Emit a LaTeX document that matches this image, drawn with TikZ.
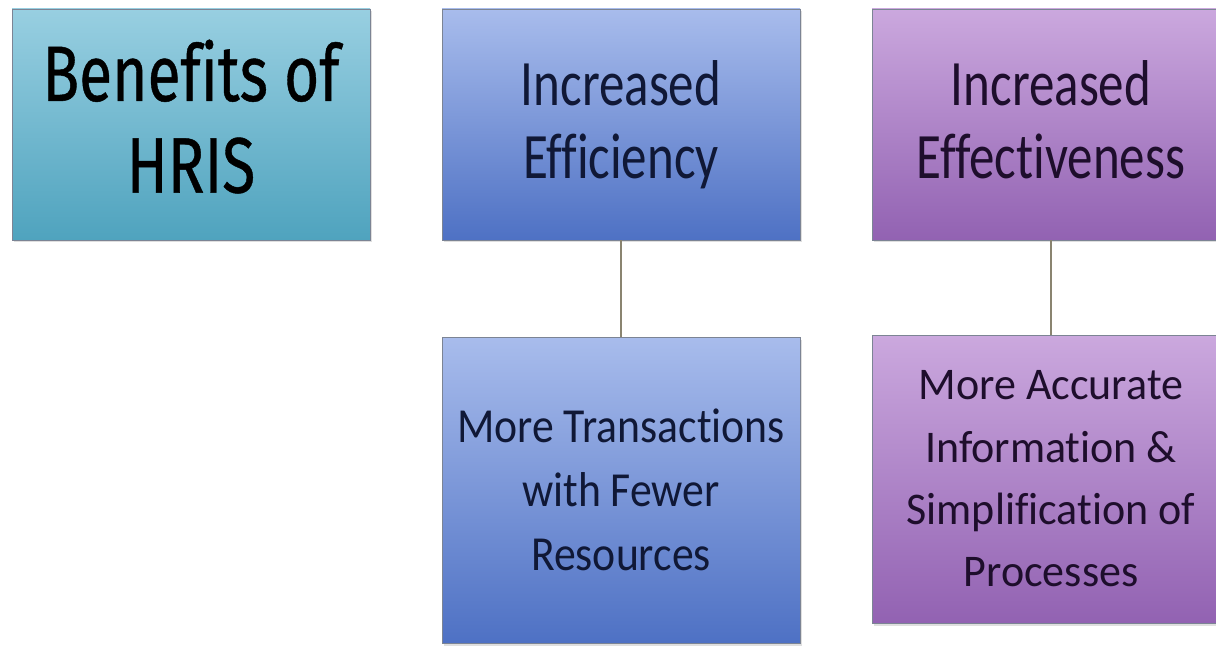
\documentclass[tikz,border=0pt]{standalone}
\usepackage{fontspec}
\setmainfont{Carlito}[Ligatures={NoCommon}]
\newfontfamily\comicfont{Fira Sans}[Ligatures={NoCommon}, FakeBold=0.6]
\usetikzlibrary{shadows}
\definecolor{tealtop}{HTML}{98CFE1}
\definecolor{tealbot}{HTML}{4FA3BE}
\definecolor{bluetop}{HTML}{A8BCEC}
\definecolor{bluebot}{HTML}{4E71C4}
\definecolor{purptop}{HTML}{CBA8DE}
\definecolor{purpbot}{HTML}{9262B2}
\definecolor{bluetext}{HTML}{101836}
\definecolor{purptext}{HTML}{1E0E2C}
\definecolor{linkcol}{HTML}{8A8470}
\definecolor{edgecol}{HTML}{7C8494}
\newcommand{\boxtext}[4]{\scalebox{1}[#1]{\parbox{350pt}{\fontsize{#2}{#3}\selectfont\centering #4\par}}}
\tikzset{
  card/.style={draw=edgecol, line width=0.6pt, inner sep=0pt, minimum width=358pt,
    drop shadow={opacity=0.25, shadow xshift=1.5pt, shadow yshift=-2.5pt}},
  tealcard/.style={card, top color=tealtop, bottom color=tealbot, text=black},
  bluecard/.style={card, top color=bluetop, bottom color=bluebot, text=bluetext},
  purpcard/.style={card, top color=purptop, bottom color=purpbot, text=purptext},
  link/.style={draw=linkcol, line width=1.3pt}
}
\begin{document}
\begin{tikzpicture}[x=1pt, y=-1pt]
\useasboundingbox (0,0) rectangle (1216,647);
\fill[white] (0,0) rectangle (1216,647);
\clip (0,0) rectangle (1216,647);
\node[tealcard, minimum height=231pt] (hris) at (191,124.5)
  {\boxtext{1.3}{60.5}{70.5}{\comicfont Benefits of\\HRIS\vphantom{y}}};
\node[bluecard, minimum height=231pt] (eff) at (621,124.5)
  {\boxtext{1.27}{51}{57.5}{Increased\\Efficiency}};
\node[purpcard, minimum height=231pt] (effv) at (1051,124.5)
  {\boxtext{1.27}{51}{57.5}{Increased\\Effectiveness\vphantom{y}}};
\node[bluecard, minimum height=306pt] (trans) at (621,490)
  {\boxtext{1.12}{43.7}{57}{More Transactions\\with Fewer\\Resources}};
\node[purpcard, minimum height=288pt] (acc) at (1051,479)
  {\boxtext{1.03}{44}{60.5}{More Accurate\\Information \&\\Simplification of\\Processes}};
\draw[link] (eff.south) -- (trans.north);
\draw[link] (effv.south) -- (acc.north);
\end{tikzpicture}
\end{document}
